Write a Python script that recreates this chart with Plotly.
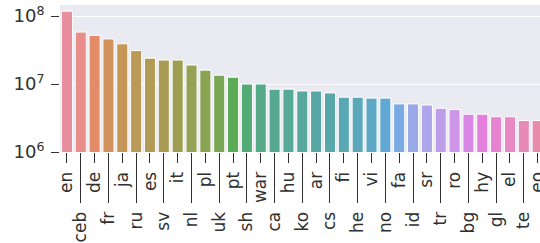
import math
import colorsys
import plotly.graph_objects as go

languages = ["en", "ceb", "de", "fr", "ja", "ru", "es", "sv", "it", "nl", "pl", "uk",
             "pt", "sh", "war", "ca", "hu", "ko", "ar", "cs", "fi", "he", "vi", "no",
             "fa", "id", "sr", "tr", "ro", "bg", "hy", "gl", "el", "te", "eo"]
counts = [1.18e8, 5.8e7, 5.2e7, 4.6e7, 3.9e7, 3.1e7, 2.4e7, 2.25e7, 2.25e7, 1.9e7,
          1.6e7, 1.35e7, 1.26e7, 1.0e7, 1.0e7, 8.4e6, 8.4e6, 7.9e6, 7.9e6, 7.4e6,
          6.4e6, 6.4e6, 6.2e6, 6.2e6, 5.1e6, 5.1e6, 4.9e6, 4.4e6, 4.2e6, 3.6e6,
          3.6e6, 3.3e6, 3.3e6, 2.9e6, 2.9e6]
y_tick_vals = [1e6, 1e7, 1e8]
y_tick_text = ["10<sup>6</sup>", "10<sup>7</sup>", "10<sup>8</sup>"]

# ---- seaborn-like husl palette ----
M = [[3.2406, -1.5372, -0.4986], [-0.9689, 1.8758, 0.0415], [0.0557, -0.2040, 1.0570]]
REF_U, REF_V = 0.19784, 0.46834


def max_chroma(L, H):
    hrad = math.radians(H)
    sinH, cosH = math.sin(hrad), math.cos(hrad)
    sub1 = ((L + 16) ** 3) / 1560896.0
    sub2 = sub1 if sub1 > 0.008856 else (L / 903.3)
    result = float("inf")
    for m1, m2, m3 in M:
        top = (0.99915 * m1 + 1.05122 * m2 + 1.14460 * m3) * sub2
        rbottom = 0.86330 * m3 - 0.17266 * m2
        lbottom = 0.12949 * m3 - 0.38848 * m1
        bottom = (rbottom * sinH + lbottom * cosH) * sub2
        for t in (0.0, 1.0):
            C = L * (top - 1.05122 * t) / (bottom + 0.17266 * sinH * t)
            if 0.0 < C < result:
                result = C
    return result


def f_inv(t):
    return t ** 3 if t ** 3 > 0.008856 else (116.0 * t - 16.0) / 903.3


def from_linear(c):
    return 12.92 * c if c <= 0.0031308 else 1.055 * c ** (1 / 2.4) - 0.055


def husl_to_rgb(H, S, L):
    C = max_chroma(L, H) / 100.0 * S
    hr = math.radians(H)
    U, V = math.cos(hr) * C, math.sin(hr) * C
    varY = f_inv((L + 16) / 116.0)
    varU = U / (13.0 * L) + REF_U
    varV = V / (13.0 * L) + REF_V
    Y = varY
    X = 0.0 - (9.0 * Y * varU) / ((varU - 4.0) * varV - varU * varV)
    Z = (9.0 * Y - 15.0 * varV * Y - varV * X) / (3.0 * varV)
    rgb = [from_linear(r[0] * X + r[1] * Y + r[2] * Z) for r in M]
    return [min(max(c, 0.0), 1.0) for c in rgb]


def palette(n, h=0.01, s=0.9, l=0.65, sat=0.75, lighten=0.1):
    out = []
    for i in range(n):
        hue = ((i / n + h) % 1) * 359
        r, g, b = husl_to_rgb(hue, s * 99, l * 99)
        hh, ll, ss = colorsys.rgb_to_hls(r, g, b)
        rgb = colorsys.hls_to_rgb(hh, ll, ss * sat)
        rgb = [c + (1 - c) * lighten for c in rgb]
        out.append("rgb(%d,%d,%d)" % tuple(round(c * 255) for c in rgb))
    return out


colors = palette(len(languages))
even = languages[0::2]
odd = languages[1::2]
TXT = "#303030"
YFONT = dict(family="DejaVu Sans", size=18, color=TXT)
XFONT = dict(family="DejaVu Sans", size=17, color=TXT)

fig = go.Figure()
fig.add_trace(go.Bar(x=languages, y=counts, marker_color=colors,
                     marker_line_color="white", marker_line_width=1,
                     showlegend=False, hoverinfo="skip"))
fig.add_trace(go.Scatter(x=languages, y=counts, xaxis="x2", mode="markers",
                         marker=dict(opacity=0), showlegend=False, hoverinfo="skip"))

xrange = [-0.5, 34.17]
common_x = dict(type="category", categoryorder="array", categoryarray=languages,
                range=xrange, showgrid=False, zeroline=False, showline=False,
                ticks="outside", tickcolor=TXT, tickwidth=1.3, tickangle=-90,
                tickfont=XFONT, tickmode="array", ticklabelstandoff=2,
                automargin=False)

fig.update_layout(
    width=540, height=243,
    margin=dict(l=60, r=0, t=5, b=91, autoexpand=False),
    paper_bgcolor="white", plot_bgcolor="#EAEAF2",
    bargap=0.2,
    font=XFONT,
    xaxis=dict(**common_x, tickvals=even, ticktext=even, ticklen=10),
    xaxis2=dict(**common_x, tickvals=odd, ticktext=odd, ticklen=50,
                overlaying="x", side="bottom"),
    yaxis=dict(type="log", range=[6, 8.162], tickmode="array",
               tickvals=y_tick_vals, ticktext=y_tick_text,
               showgrid=True, gridcolor="white", gridwidth=1.3,
               zeroline=False, showline=False, ticks="outside", ticklen=8,
               tickwidth=1.3, tickcolor=TXT, tickfont=YFONT, ticklabelstandoff=3,
               automargin=False),
)

fig.write_html("out.html", config={"displayModeBar": False},
               post_script="document.body.style.margin='0';document.body.style.overflow='hidden';")
